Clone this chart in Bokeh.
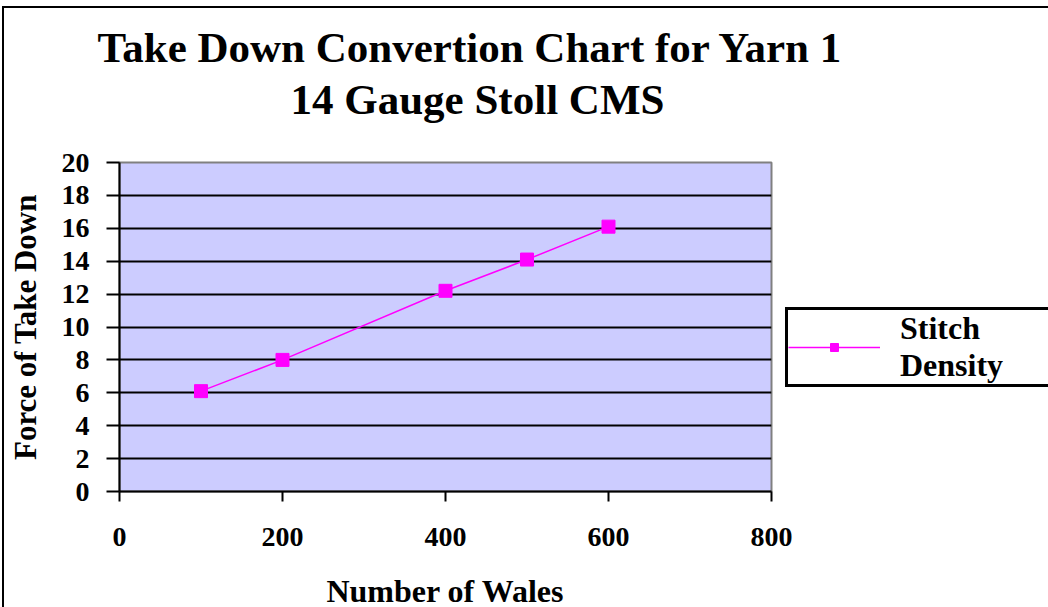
from bokeh.plotting import figure
from bokeh.models import Title, Legend, LegendItem, FixedTicker
from bokeh.embed import file_html
from bokeh.resources import INLINE

wales = [100, 200, 400, 500, 600]
force = [6.1, 8.0, 12.2, 14.1, 16.1]
series_name = "Stitch\nDensity"
title_1 = "Take Down Convertion Chart for Yarn 1"
title_2 = "14 Gauge Stoll CMS"
x_label = "Number of Wales"
y_label = "Force of Take Down"
x_ticks = [0, 200, 400, 600, 800]
y_ticks = [0, 2, 4, 6, 8, 10, 12, 14, 16, 18, 20]

FONT = "Liberation Serif"

p = figure(frame_width=652, frame_height=329, x_range=(0, 800), y_range=(0, 20),
           output_backend="svg", toolbar_location=None, title=None,
           min_border_left=105, min_border_right=290, min_border_top=154, min_border_bottom=100)
p.background_fill_color = "#CCCCFF"
p.border_fill_color = "white"
p.outline_line_color = "#808080"
p.outline_line_width = 2
p.styles = {"border-top": "2px solid black", "border-left": "2px solid black",
            "margin-top": "6px", "margin-left": "2px"}

spacer = Title(text=" ", text_font_size="1px", standoff=37)
t2 = Title(text=title_2, align="left", offset=171, text_font=FONT, text_font_size="43px",
           text_font_style="bold", text_color="black", standoff=0, text_line_height=1.0)
t1 = Title(text=title_1, align="left", offset=-22, text_font=FONT, text_font_size="43px",
           text_font_style="bold", text_color="black", standoff=6, text_line_height=1.0)
p.add_layout(spacer, "above")
p.add_layout(t2, "above")
p.add_layout(t1, "above")

for ax in (p.xaxis, p.yaxis):
    ax.axis_line_color = "black"
    ax.axis_line_width = 2
    ax.major_tick_line_color = "black"
    ax.major_tick_line_width = 2
    ax.major_tick_in = 0
    ax.minor_tick_line_color = None
    ax.major_label_text_font = FONT
    ax.major_label_text_font_style = "bold"
    ax.major_label_text_font_size = "28px"
    ax.major_label_text_color = "black"
    ax.axis_label_text_font = FONT
    ax.axis_label_text_font_style = "bold"
    ax.axis_label_text_color = "black"

p.xaxis.axis_label_text_font_size = "32px"
p.yaxis.axis_label_text_font_size = "31px"
p.xaxis.ticker = FixedTicker(ticks=x_ticks)
p.yaxis.ticker = FixedTicker(ticks=y_ticks)
p.xaxis.major_tick_out = 10
p.yaxis.major_tick_out = 13
p.xaxis.major_label_standoff = 26
p.yaxis.major_label_standoff = 17
p.xaxis.axis_label = x_label
p.yaxis.axis_label = y_label
p.xaxis.axis_label_standoff = 24
p.yaxis.axis_label_standoff = 16

p.xgrid.grid_line_color = None
p.ygrid.ticker = FixedTicker(ticks=y_ticks[:-1])
p.ygrid.grid_line_color = "black"
p.ygrid.grid_line_width = 2

ln = p.line(wales, force, line_color="#FF00FF", line_width=1.5)
mk = p.scatter(wales, force, marker="square", size=13, fill_color="#FF00FF", line_color="#FF00FF")

legend = Legend(items=[LegendItem(label=series_name, renderers=[ln, mk])],
                location=(14, 104), orientation="vertical",
                border_line_color="black", border_line_width=3, border_line_alpha=1.0,
                label_text_font=FONT, label_text_font_style="bold", label_text_font_size="32px",
                label_text_line_height=0.95,
                label_text_color="black", glyph_width=92, label_width=220,
                margin=0, padding=0, spacing=0, label_standoff=20)
p.add_layout(legend, "right")

open("out.html", "w").write(file_html(p, INLINE))
